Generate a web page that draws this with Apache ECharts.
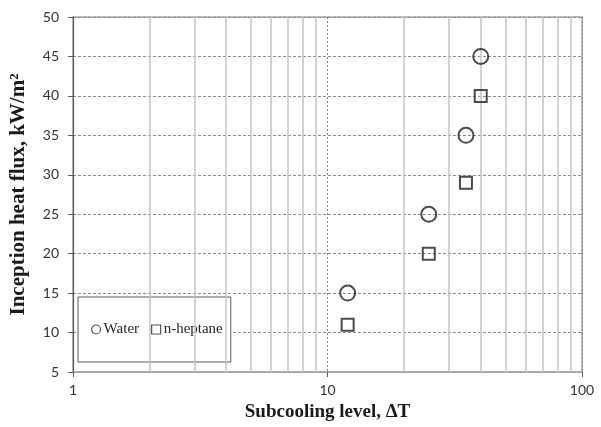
<!DOCTYPE html>
<html>
<head>
<meta charset="utf-8">
<script src="https://cdn.jsdelivr.net/npm/echarts@6/dist/echarts.min.js"></script>
<style>
  html, body { margin: 0; padding: 0; background: #fff; }
  #chart { width: 601px; height: 427px; }
</style>
</head>
<body>
<div id="chart"></div>
<script>
// Inception heat flux versus subcooling level (log x axis)
const waterSubcooling = [12, 25, 35, 40];
const waterHeatFlux = [15, 25, 35, 45];
const heptaneSubcooling = [12, 25, 35, 40];
const heptaneHeatFlux = [11, 20, 29, 40];

// Intermediate decade lines of the log axis
const minorGridX = [2, 3, 4, 5, 6, 7, 8, 9, 20, 30, 40, 50, 60, 70, 80, 90];

const seriesNames = ['Water', 'n-heptane'];
const xTitle = 'Subcooling level, \u0394T';
const yTitle = 'Inception heat flux, kW/m\u00b2';

const serif = '"Liberation Serif", "Times New Roman", serif';
const sans = 'Lato, "Open Sans", sans-serif';

const chart = echarts.init(document.getElementById('chart'), null, { renderer: 'canvas' });

chart.setOption({
  animation: false,
  backgroundColor: '#ffffff',
  grid: {
    left: 72, right: 19, top: 17, bottom: 55,
    show: true,
    borderColor: '#a6a6a6',
    borderWidth: 1.5
  },
  legend: {
    left: 78,
    top: 297,
    orient: 'horizontal',
    padding: [25, 8, 25, 13],
    backgroundColor: '#ffffff',
    borderColor: '#595959',
    borderWidth: 1,
    itemGap: 12,
    itemWidth: 9,
    itemHeight: 9,
    textStyle: { fontFamily: serif, fontSize: 15, color: '#262626', padding: [0, 0, 0, -2] },
    data: [
      { name: seriesNames[0], icon: 'circle', itemStyle: { color: 'transparent', borderColor: '#262626', borderWidth: 1.2 } },
      { name: seriesNames[1], icon: 'rect', itemStyle: { color: 'transparent', borderColor: '#262626', borderWidth: 1.2 } }
    ]
  },
  xAxis: {
    type: 'log',
    logBase: 10,
    min: 1,
    max: 100,
    name: xTitle,
    nameLocation: 'middle',
    nameGap: 31,
    nameTextStyle: { fontFamily: serif, fontWeight: 'bold', fontSize: 19, color: '#1a1a1a' },
    axisLine: { show: true, onZero: false, lineStyle: { color: '#a6a6a6', width: 1.5 } },
    axisTick: { show: true, inside: false, length: 5, lineStyle: { color: '#595959', width: 1 } },
    axisLabel: { fontFamily: sans, fontSize: 14, color: '#333333', margin: 11 },
    splitLine: { show: true, lineStyle: { color: '#7f7f7f', type: [2, 2], width: 1 } },
    minorTick: { show: false },
    minorSplitLine: { show: false }
  },
  yAxis: {
    type: 'value',
    min: 5,
    max: 50,
    interval: 5,
    name: yTitle,
    nameLocation: 'middle',
    nameGap: 44,
    nameRotate: 90,
    nameTextStyle: { fontFamily: serif, fontWeight: 'bold', fontSize: 21, color: '#1a1a1a' },
    axisLine: { show: true, onZero: false, lineStyle: { color: '#595959', width: 1.2 } },
    axisTick: { show: true, inside: false, length: 5, lineStyle: { color: '#595959', width: 1 } },
    axisLabel: { fontFamily: sans, fontSize: 14, color: '#333333', margin: 14 },
    splitLine: { show: true, lineStyle: { color: '#8c8c8c', type: [3, 2], width: 1 } }
  },
  series: [
    {
      name: seriesNames[0],
      type: 'scatter',
      symbol: 'circle',
      symbolSize: 15,
      itemStyle: { color: 'transparent', borderColor: '#1f1f1f', borderWidth: 2 },
      data: waterSubcooling.map((x, i) => [x, waterHeatFlux[i]]),
      z: 5,
      markLine: {
        silent: true,
        symbol: 'none',
        label: { show: false },
        lineStyle: { color: '#c4c4c4', type: 'solid', width: 1.5 },
        data: minorGridX.map(v => ({ xAxis: v }))
      }
    },
    {
      name: seriesNames[1],
      type: 'scatter',
      symbol: 'rect',
      symbolSize: 12,
      itemStyle: { color: 'transparent', borderColor: '#1f1f1f', borderWidth: 2 },
      data: heptaneSubcooling.map((x, i) => [x, heptaneHeatFlux[i]]),
      z: 5
    }
  ]
});
</script>
</body>
</html>
